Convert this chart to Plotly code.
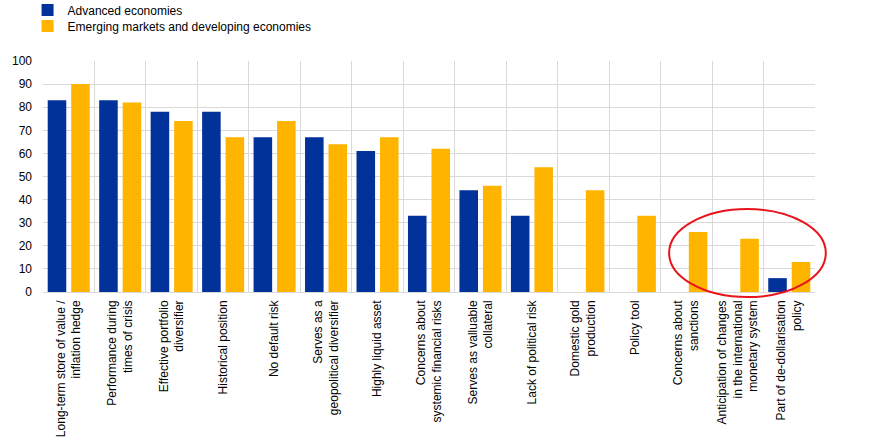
import plotly.graph_objects as go

categories = [
    "Long-term store of value /<br>inflation hedge",
    "Performance during<br>times of crisis",
    "Effective portfolio<br>diversifier",
    "Historical position",
    "No default risk",
    "Serves as a<br>geopolitical diversifier",
    "Highly liquid asset",
    "Concerns about<br>systemic financial risks",
    "Serves as valluable<br>collateral",
    "Lack of political risk",
    "Domestic gold<br>production",
    "Policy tool",
    "Concerns about<br>sanctions",
    "Anticipation of changes<br>in the international<br>monetary system",
    "Part of de-dollarisation<br>policy",
]
advanced = [83, 83, 78, 78, 67, 67, 61, 33, 44, 33, 0, 0, 0, 0, 6]
emerging = [90, 82, 74, 67, 74, 64, 67, 62, 46, 54, 44, 33, 26, 23, 13]
y_ticks = [0, 10, 20, 30, 40, 50, 60, 70, 80, 90, 100]

FONT = "Arial, Liberation Sans, sans-serif"
LEG_FONT = dict(family=FONT, size=12, color="#000000")

fig = go.Figure()
fig.add_trace(go.Bar(x=categories, y=advanced, name="Advanced economies",
                     legend="legend",
                     marker=dict(color="#003299", line=dict(width=0))))
fig.add_trace(go.Bar(x=categories, y=emerging, name="Emerging markets and developing economies",
                     legend="legend2",
                     marker=dict(color="#FFB400", line=dict(width=0))))

fig.update_layout(
    width=874, height=445,
    margin=dict(l=43, r=59, t=61, b=153, autoexpand=False),
    paper_bgcolor="white", plot_bgcolor="white",
    barmode="group", bargap=0.087, bargroupgap=0.21,
    font=dict(family=FONT, size=12, color="#000000"),
    showlegend=True,
    legend=dict(x=-0.020, y=1.2208, xanchor="left", yanchor="middle",
                orientation="v", font=LEG_FONT, bgcolor="rgba(0,0,0,0)"),
    legend2=dict(x=-0.020, y=1.1515, xanchor="left", yanchor="middle",
                 orientation="v", font=LEG_FONT, bgcolor="rgba(0,0,0,0)"),
    xaxis=dict(type="category", tickson="boundaries", showgrid=True,
               gridcolor="#d9d9d9", gridwidth=1, tickangle=-90,
               ticks="", showline=False, zeroline=False, automargin=False,
               ticklabelstandoff=5,
               tickfont=dict(family=FONT, size=12, color="#000000"),
               range=[-0.5, 14.5]),
    yaxis=dict(range=[0, 100], tickvals=y_ticks, showgrid=True,
               gridcolor="#d9d9d9", gridwidth=1, zeroline=True,
               zerolinecolor="#d9d9d9", zerolinewidth=1, showline=False,
               ticks="", ticklabelstandoff=10, automargin=False,
               tickfont=dict(family=FONT, size=12, color="#000000")),
    shapes=[dict(type="circle", xref="paper", yref="paper",
                 x0=0.811, x1=1.014, y0=-0.022, y1=0.359,
                 line=dict(color="#e8141c", width=2), layer="above")],
)

fig.write_html("out.html", config={"displayModeBar": False},
               post_script="document.body.style.margin='0';document.body.style.padding='0';")
